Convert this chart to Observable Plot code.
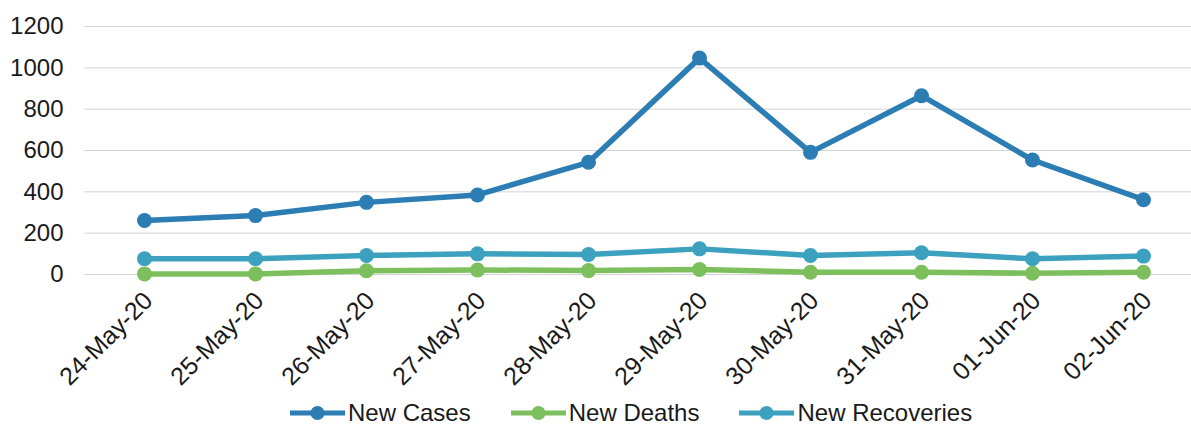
<!DOCTYPE html>
<html>
<head>
<meta charset="utf-8">
<script src="https://cdn.jsdelivr.net/npm/d3@7"></script>
<script src="https://cdn.jsdelivr.net/npm/@observablehq/plot@0.6"></script>
<style>
  html, body { margin: 0; padding: 0; background: #fff; }
  body { width: 1191px; height: 426px; overflow: hidden; font-family: "Liberation Sans", Arial, sans-serif; }
  #chart svg { display: block; }
  #legend { display: flex; align-items: center; height: 26px; line-height: 26px; padding-top: 5px; padding-left: 290px; font-size: 24px; color: #1a1a1a; box-sizing: content-box; }
  #legend .item { display: flex; align-items: center; margin-right: 40px; }
  #legend svg { margin-right: 3px; display: block; }
</style>
</head>
<body>
<div id="chart"></div>
<div id="legend"></div>
<script>
const dates = ["24-May-20","25-May-20","26-May-20","27-May-20","28-May-20","29-May-20","30-May-20","31-May-20","01-Jun-20","02-Jun-20"];
const newCases = [261, 285, 349, 385, 543, 1047, 591, 865, 554, 362];
const newDeaths = [3, 3, 18, 22, 19, 24, 11, 11, 6, 11];
const newRecoveries = [76, 76, 92, 100, 97, 124, 92, 105, 76, 89];
const seriesNames = ["New Cases", "New Deaths", "New Recoveries"];
const seriesColors = ["#2b7db3", "#7dbf5c", "#3ba1bf"];
const yTicks = [0, 200, 400, 600, 800, 1000, 1200];

const valuesBySeries = [newCases, newDeaths, newRecoveries];
const rows = [];
seriesNames.forEach((name, i) => {
  dates.forEach((d, j) => rows.push({date: d, value: valuesBySeries[i][j], series: name}));
});

const chart = Plot.plot({
  width: 1191,
  height: 395,
  marginTop: 26,
  marginBottom: 121,
  marginLeft: 84,
  marginRight: 0,
  style: {fontFamily: "'Liberation Sans', Arial, sans-serif", color: "#1a1a1a", background: "#fff"},
  x: {type: "point", domain: dates, range: [140, 1146], padding: 0},
  y: {domain: [0, 1200]},
  color: {domain: seriesNames, range: seriesColors},
  marks: [
    Plot.ruleY(yTicks, {stroke: "#d4d4d4", strokeWidth: 1}),
    Plot.axisY({ticks: yTicks, tickFormat: d => String(d), tickSize: 0, tickPadding: 21, fontSize: 24, label: null}),
    Plot.axisX({tickSize: 0, tickRotate: -45, fontSize: 25, label: null, tickPadding: 22, dx: 4}),
    Plot.lineY(rows, {x: "date", y: "value", z: "series", stroke: "series", strokeWidth: 5.5}),
    Plot.dot(rows, {x: "date", y: "value", fill: "series", r: 7.5})
  ]
});
document.getElementById("chart").appendChild(chart);

const legend = document.getElementById("legend");
seriesNames.forEach((name, i) => {
  const item = document.createElement("div");
  item.className = "item";
  item.innerHTML = `<svg width="55" height="16"><line x1="0" y1="8" x2="55" y2="8" stroke="${seriesColors[i]}" stroke-width="5"/><circle cx="27.5" cy="8" r="7" fill="${seriesColors[i]}"/></svg><span>${name}</span>`;
  legend.appendChild(item);
});
</script>
</body>
</html>
